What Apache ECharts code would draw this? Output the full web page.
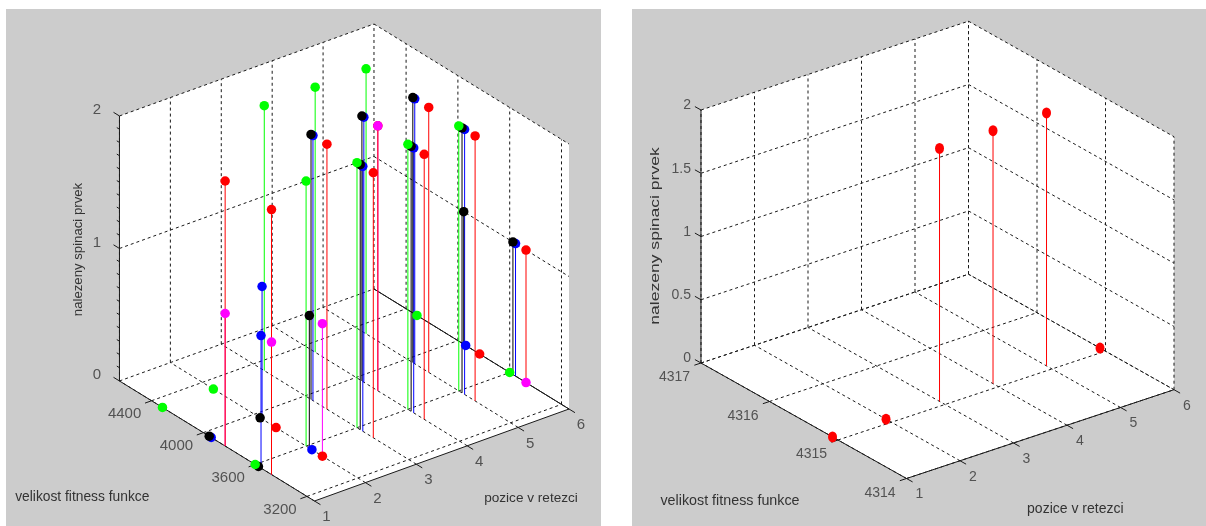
<!DOCTYPE html>
<html><head><meta charset="utf-8">
<style>html,body{margin:0;padding:0;background:#fff}#c{width:1206px;height:526px}</style>
<script src="https://cdn.jsdelivr.net/npm/echarts@6/dist/echarts.min.js"></script>
</head><body><div id="c"></div>
<script>
// ---- data ----
const positions = [1, 2, 3, 4, 5, 6];
// left panel: fitness level and height at each position
const fitnessTicksL = [3200, 3600, 4000, 4400];
const heightTicksL = [0, 1, 2];
const greenHighY = 4316, greenHighZ = [0, 0, 2, 2, 2, 0];
const blackMidY = 3955, blackMidZ = [0, 0, 2, 2, 2, 1];
const blueMidY = 3940, blueMidZ = [0, 1, 2, 2, 2, 0];
const greenLowY = 3600, greenLowZ = [0, 2, 2, 2, 2, 0];
const blackLowY = 3575, blackLowZ = [0, 1, 2, 2, 2, 1];
const blueLowY = 3555, blueLowZ = [1, 0, 2, 2, 2, 1];
const redHighY = 3832, redHighZ = [2, 0, 2, 2, 2, 0];
const redLowY = 3474, redLowZ = [2, 0, 2, 2, 2, 1];
const magentaHighZ = [1, null, null, 2, null, null];
const magentaLowZ = [1, 1, null, null, null, 0];
// right panel
const fitnessTicksR = [4314, 4315, 4316, 4317];
const heightTicksR = [0, 0.5, 1, 1.5, 2];
const bestY = 4315.08, bestZ = [0, 0, 2, 2, 2, 0];
// text
const titleFitness = 'velikost fitness funkce';
const titlePosition = 'pozice v retezci';
const titleFound = 'nalezeny spinaci prvek';

// ---- view settings ----
const GREEN = '#00ff00', BLACK = '#000000', BLUE = '#0000ff', RED = '#ff0000', MAGENTA = '#ff00ff';
const leftView = {
  rect: [6, 9, 595, 517], ox: 314.5, oy: 501, xdx: 50.9, xdy: -18.4, ydx: -0.1295, ydy: -0.0797, zPx: 132.5,
  xMin: 1, xMax: 6, yMin: 3142, yMax: 4648, zMax: 2, yTicks: fitnessTicksL, zTicks: heightTicksL,
  minorZ: true, tickPx: 7, fontSize: 15, solidBack: true, symbol: 9.5,
  yOff: [-27, 13.5], xOff: [12, 16], zOff: [-18.5, -6],
  titles: [[82.3, 497, 13.8, 1, titleFitness, 0], [531, 498.3, 13.6, 1, titlePosition, 0], [78.3, 249.5, 13.2, 1, titleFound, 1]]
};
const rightView = {
  rect: [632, 9, 574, 517], ox: 906.5, oy: 478.5, xdx: 53.5, xdy: -17.76, ydx: -68.5, ydy: -38.5, zPx: 126.5,
  xMin: 1, xMax: 6, yMin: 4314, yMax: 4317, zMax: 2, yTicks: fitnessTicksR, zTicks: heightTicksR,
  minorZ: false, tickPx: 7, fontSize: 14, solidBack: false, symbol: [9, 11],
  yOff: [-26.5, 14.5], xOff: [13, 16], zOff: [-10, -4.5],
  titles: [[730, 501, 14.3, 1, titleFitness, 0], [1075.3, 508.7, 14, 1, titlePosition, 0], [655, 236, 13.5, 1.3, titleFound, 1]]
};

const proj = v => ([x, y, z]) => [
  v.ox + (x - v.xMin) * v.xdx + (y - v.yMin) * v.ydx,
  v.oy + (x - v.xMin) * v.xdy + (y - v.yMin) * v.ydy - z * v.zPx
];

function panelSeries(v, i, sets) {
  const p = proj(v);
  const ax = { xAxisIndex: i, yAxisIndex: i, silent: true, animation: false };
  const seg = (a, b) => [...p(a), ...p(b)];
  // a set of straight segments, each placed through the panel's hidden scales
  const segments = (data, stroke, dash) => ({
    type: 'custom', ...ax, data,
    renderItem: (params, api) => {
      const a = api.coord([api.value(0), api.value(1)]), b = api.coord([api.value(2), api.value(3)]);
      return {
        type: 'line', shape: { x1: a[0], y1: a[1], x2: b[0], y2: b[1] },
        style: { stroke, lineWidth: 1, fill: null, lineDash: dash || null }
      };
    }
  });
  const dashed = [], solid = [];
  positions.forEach(x => {
    dashed.push(seg([x, v.yMin, 0], [x, v.yMax, 0]));
    dashed.push(seg([x, v.yMax, 0], [x, v.yMax, v.zMax]));
  });
  v.yTicks.forEach(y => {
    dashed.push(seg([v.xMin, y, 0], [v.xMax, y, 0]));
    dashed.push(seg([v.xMax, y, 0], [v.xMax, y, v.zMax]));
  });
  v.zTicks.forEach(z => {
    dashed.push(seg([v.xMin, v.yMax, z], [v.xMax, v.yMax, z]));
    dashed.push(seg([v.xMax, v.yMax, z], [v.xMax, v.yMin, z]));
  });
  solid.push(seg([v.xMin, v.yMax, 0], [v.xMin, v.yMax, v.zMax]));
  solid.push(seg([v.xMin, v.yMax, 0], [v.xMin, v.yMin, 0]));
  solid.push(seg([v.xMin, v.yMin, 0], [v.xMax, v.yMin, 0]));
  if (v.solidBack) solid.push(seg([v.xMax, v.yMax, 0], [v.xMax, v.yMin, 0]));
  // tick marks
  const xLen = Math.hypot(v.xdx, v.xdy), yLen = Math.hypot(v.ydx, v.ydy);
  const dX = v.tickPx / xLen, dY = v.tickPx / yLen;
  positions.forEach(x => solid.push(seg([x, v.yMin, 0], [x, v.yMin - dY, 0])));
  v.yTicks.forEach(y => solid.push(seg([v.xMin, y, 0], [v.xMin - dX, y, 0])));
  v.zTicks.forEach(z => solid.push(seg([v.xMin, v.yMax, z], [v.xMin, v.yMax + dY, z])));
  if (v.minorZ) for (let k = 0; k <= 20; k++) {
    if (k % 10) solid.push(seg([v.xMin, v.yMax, k / 10], [v.xMin, v.yMax + dY * 0.45, k / 10]));
  }
  const hull = [[v.xMin, v.yMax, 0], [v.xMin, v.yMax, v.zMax], [v.xMax, v.yMax, v.zMax], [v.xMax, v.yMin, v.zMax], [v.xMax, v.yMin, 0], [v.xMin, v.yMin, 0]];
  const out = [];
  out.push({
    type: 'custom', ...ax, data: [0],
    renderItem: (params, api) => ({ type: 'polygon', shape: { points: hull.map(c => api.coord(p(c))) }, style: { fill: '#ffffff' } })
  });
  out.push(segments(dashed, '#1a1a1a', [3, 3]));
  out.push(segments(solid, '#1a1a1a'));
  sets.stems.forEach(([color, y, zs]) => {
    const data = [];
    zs.forEach((z, k) => { if (z) data.push(seg([positions[k], y, 0], [positions[k], y, z])); });
    out.push(segments(data, color));
  });
  sets.marks.forEach(([color, y, zs]) => {
    const data = [];
    zs.forEach((z, k) => { if (z !== null) data.push(p([positions[k], y, z])); });
    out.push({ type: 'scatter', ...ax, data, symbol: 'circle', symbolSize: v.symbol, itemStyle: { color, opacity: 1 } });
  });
  const labels = (pts, txt, off, align) => out.push({
    type: 'scatter', ...ax, symbolSize: 0, itemStyle: { color: 'transparent' },
    data: pts.map((q, k) => [q[0], q[1], txt[k]]),
    label: { show: true, position: 'inside', formatter: d => String(d.value[2]), offset: off, fontFamily: 'Liberation Sans', fontSize: v.fontSize, color: '#333', align: align || 'center', verticalAlign: 'middle' }
  });
  labels(positions.map(x => p([x, v.yMin, 0])), positions, v.xOff);
  labels(v.yTicks.map(y => p([v.xMin, y, 0])), v.yTicks, v.yOff);
  labels(v.zTicks.map(z => p([v.xMin, v.yMax, z])), v.zTicks, v.zOff, 'right');
  return out;
}

const leftSets = {
  stems: [
    [MAGENTA, redHighY, magentaHighZ], [MAGENTA, redLowY, magentaLowZ],
    [RED, redHighY, redHighZ], [RED, redLowY, redLowZ],
    [BLUE, blueMidY, blueMidZ], [BLUE, blueLowY, blueLowZ],
    [BLACK, blackMidY, blackMidZ], [BLACK, blackLowY, blackLowZ],
    [GREEN, greenHighY, greenHighZ], [GREEN, greenLowY, greenLowZ]
  ],
  marks: [
    [RED, redHighY, redHighZ], [RED, redLowY, redLowZ],
    [MAGENTA, redHighY, magentaHighZ], [MAGENTA, redLowY, magentaLowZ],
    [BLUE, blueMidY, blueMidZ], [BLUE, blueLowY, blueLowZ],
    [BLACK, blackMidY, blackMidZ], [BLACK, blackLowY, blackLowZ],
    [GREEN, greenHighY, greenHighZ], [GREEN, greenLowY, greenLowZ]
  ]
};
const rightSets = { stems: [[RED, bestY, bestZ]], marks: [[RED, bestY, bestZ]] };

const views = [leftView, rightView];
const option = {
  backgroundColor: '#ffffff',
  animation: false,
  grid: views.map(v => ({ show: true, left: v.rect[0], top: v.rect[1], width: v.rect[2], height: v.rect[3], backgroundColor: '#cccccc', borderWidth: 0 })),
  xAxis: views.map((v, i) => ({ type: 'value', gridIndex: i, show: false, min: v.rect[0], max: v.rect[0] + v.rect[2] })),
  yAxis: views.map((v, i) => ({ type: 'value', gridIndex: i, show: false, inverse: true, min: v.rect[1], max: v.rect[1] + v.rect[3] })),
  series: [...panelSeries(leftView, 0, leftSets), ...panelSeries(rightView, 1, rightSets)],
  graphic: views.flatMap(v => v.titles.map(([x, y, size, stretch, text, vertical]) => ({
    type: 'text', x, y, silent: true, z: 50,
    rotation: vertical ? Math.PI / 2 : 0, scaleX: stretch,
    style: { text, fontFamily: 'Liberation Sans', fontSize: size, fill: '#333', align: 'center', verticalAlign: 'middle' }
  })))
};
const chart = echarts.init(document.getElementById('c'));
chart.setOption(option);
</script></body></html>
